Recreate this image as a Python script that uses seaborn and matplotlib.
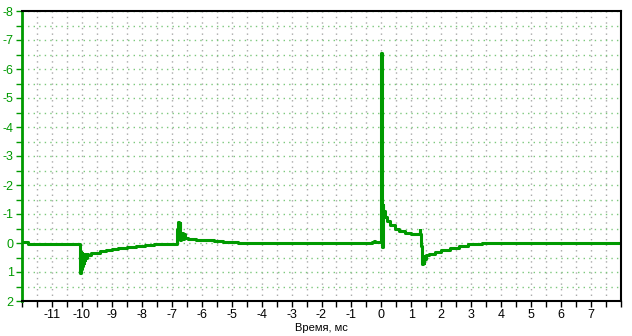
import matplotlib
matplotlib.use("Agg")
import matplotlib.pyplot as plt
import seaborn as sns
import pandas as pd
from matplotlib.ticker import MultipleLocator, FixedLocator

sns.set_theme(style="white")
plt.rcParams['font.family'] = ['Liberation Sans', 'DejaVu Sans']
plt.rcParams['axes.unicode_minus'] = False

# Time (ms) and signal values
time_ms = [-12.0, -11.8, -11.79, -10.2, -10.12, -10.08, -10.06, -10.04, -10.02, -10.0,
           -9.98, -9.96, -9.94, -9.92, -9.9, -9.88, -9.85, -9.82, -9.78, -9.7,
           -9.6, -9.4, -9.2, -9.0, -8.8, -8.5, -8.2, -7.9, -7.6, -7.2,
           -6.82, -6.81, -6.78, -6.76, -6.74, -6.72, -6.68, -6.65, -6.62, -6.58,
           -6.55, -6.45, -6.2, -5.9, -5.6, -5.3, -4.8, -0.3, -0.25, -0.2,
           -0.02, 0.0, 0.02, 0.03, 0.05, 0.07, 0.09, 0.12, 0.2, 0.3,
           0.45, 0.6, 0.8, 1.0, 1.25, 1.28, 1.3, 1.32, 1.35, 1.37,
           1.39, 1.41, 1.43, 1.46, 1.5, 1.6, 1.8, 2.0, 2.3, 2.6,
           2.9, 3.3, 3.35, 8.0]
signal = [-0.02, -0.02, 0.02, 0.02, 0.05, 0.15, 1.02, 0.3, 0.9, 0.35,
          0.8, 0.38, 0.7, 0.4, 0.6, 0.38, 0.5, 0.37, 0.42, 0.36,
          0.33, 0.28, 0.24, 0.2, 0.17, 0.13, 0.1, 0.07, 0.05, 0.03,
          0.02, -0.5, -0.72, -0.3, -0.7, -0.1, -0.25, -0.35, -0.15, -0.3,
          -0.18, -0.15, -0.12, -0.09, -0.06, -0.03, -0.01, -0.02, -0.06, -0.02,
          -0.03, -6.56, -6.5, 0.15, -1.3, -0.9, -1.1, -0.9, -0.75, -0.62,
          -0.5, -0.41, -0.34, -0.31, -0.3, -0.45, -0.3, 0.1, 0.4, 0.72,
          0.5, 0.7, 0.45, 0.55, 0.42, 0.38, 0.3, 0.24, 0.16, 0.09,
          0.05, 0.02, 0.0, 0.0]

x_ticks = list(range(-11, 8))
y_ticks = list(range(-8, 3))

df = pd.DataFrame({"t": time_ms, "v": signal})

fig = plt.figure(figsize=(6.32, 3.36), dpi=100)
ax = fig.add_axes([22/632, 1-301/336, 599/632, 290/336])

green = "#009a00"
sns.lineplot(data=df, x="t", y="v", ax=ax, sort=False, color=green,
             linewidth=2.2, drawstyle="steps-post", estimator=None)

ax.set_xlim(-12, 8)
ax.set_ylim(2, -8)

ax.xaxis.set_major_locator(FixedLocator(x_ticks))
ax.xaxis.set_minor_locator(MultipleLocator(0.5))
ax.yaxis.set_major_locator(FixedLocator(y_ticks))
ax.yaxis.set_minor_locator(MultipleLocator(0.5))

ax.xaxis.grid(True, which="both", color="#a8a8a8", linestyle=(0, (1, 3)), linewidth=1.0)
ax.yaxis.grid(True, which="both", color="#7cc87c", linestyle=(0, (1, 3)), linewidth=1.0)
ax.set_axisbelow(True)

for s in ["top", "right", "bottom"]:
    ax.spines[s].set_color("black")
    ax.spines[s].set_linewidth(1.5)
ax.spines["left"].set_color(green)
ax.spines["left"].set_linewidth(2)

ax.tick_params(axis="x", which="both", direction="out", length=4, width=1,
               color="black", labelsize=9, labelcolor="black", pad=2, bottom=True)
ax.tick_params(axis="y", which="both", direction="out", length=4, width=1,
               color=green, labelsize=9, labelcolor=green, pad=2, left=True)

ax.set_xlabel("Время, мс", fontsize=8, color="black", labelpad=1)
ax.set_ylabel("")

fig.savefig("out.png", dpi=100)
